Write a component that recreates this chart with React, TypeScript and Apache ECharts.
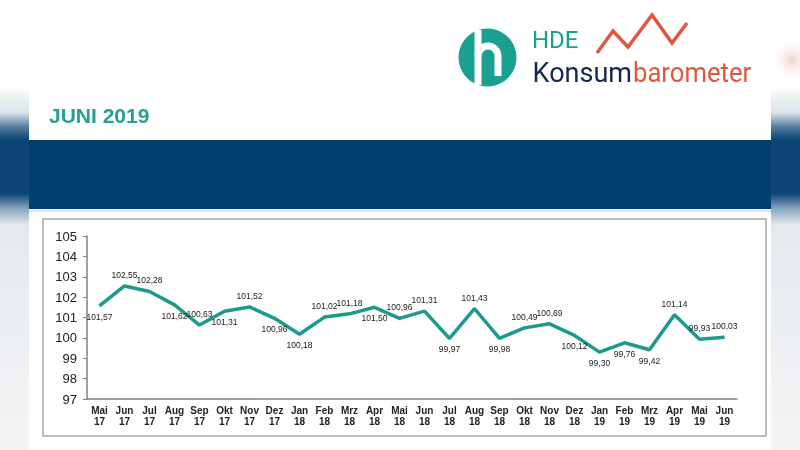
import React, { useEffect, useRef } from "react";
import * as echarts from "echarts";

const months = ["Mai", "Jun", "Jul", "Aug", "Sep", "Okt", "Nov", "Dez", "Jan", "Feb", "Mrz", "Apr", "Mai", "Jun", "Jul", "Aug", "Sep", "Okt", "Nov", "Dez", "Jan", "Feb", "Mrz", "Apr", "Mai", "Jun"];
const years = ["17", "17", "17", "17", "17", "17", "17", "17", "18", "18", "18", "18", "18", "18", "18", "18", "18", "18", "18", "18", "19", "19", "19", "19", "19", "19"];
const values = [101.57, 102.55, 102.28, 101.62, 100.63, 101.31, 101.52, 100.96, 100.18, 101.02, 101.18, 101.5, 100.96, 101.31, 99.97, 101.43, 99.98, 100.49, 100.69, 100.12, 99.3, 99.76, 99.42, 101.14, 99.93, 100.03];
const labelSide = ["bottom", "top", "top", "bottom", "top", "bottom", "top", "bottom", "bottom", "top", "top", "bottom", "top", "top", "bottom", "top", "bottom", "top", "top", "bottom", "bottom", "bottom", "bottom", "top", "top", "top"];
const yMin = 97;
const yMax = 105;

const TEAL = "#1d9a8e";
const CORAL = "#e0573f";

export default function App() {
  const ref = useRef<HTMLDivElement>(null);
  useEffect(() => {
    if (!ref.current) return;
    const chart = echarts.init(ref.current, undefined, { renderer: "svg" });
    const categories = months.map((m, i) => `${m}\n${years[i]}`);
    const fmt = (v: number) => v.toFixed(2).replace(".", ",");
    const option: any = {
      animation: false,
      backgroundColor: "transparent",
      graphic: [
        {
          type: "rect",
          z: -20,
          shape: { x: 0, y: 0, width: 800, height: 450 },
          style: {
            fill: new echarts.graphic.LinearGradient(0, 0, 0, 1, [
              { offset: 0, color: "#ffffff" },
              { offset: 0.19, color: "#ffffff" },
              { offset: 0.22, color: "#e8f2ef" },
              { offset: 0.25, color: "#dde5ec" },
              { offset: 0.28, color: "#5d82a3" },
              { offset: 0.31, color: "#0b4576" },
              { offset: 0.43, color: "#0b4576" },
              { offset: 0.465, color: "#8fa8c0" },
              { offset: 0.5, color: "#e4e9ee" },
              { offset: 1, color: "#f5f5f6" },
            ]),
          },
        },
        {
          type: "circle",
          z: -19,
          shape: { cx: 792, cy: 60, r: 22 },
          style: {
            fill: new echarts.graphic.RadialGradient(0.5, 0.5, 0.5, [
              { offset: 0, color: "rgba(232,170,160,0.55)" },
              { offset: 1, color: "rgba(255,255,255,0)" },
            ]),
          },
        },
        { type: "rect", z: -18, shape: { x: 29, y: 0, width: 742, height: 450 }, style: { fill: "#ffffff" } },
        { type: "rect", z: -17, shape: { x: 29, y: 140, width: 742, height: 69 }, style: { fill: "#033f6e" } },
        { type: "line", z: -17, shape: { x1: 29, y1: 211, x2: 771, y2: 211 }, style: { stroke: "#dbe7ee", lineWidth: 2 } },
        {
          type: "rect",
          z: -16,
          shape: { x: 43, y: 219, width: 723, height: 217 },
          style: { fill: "#ffffff", stroke: "#a6a6a6", lineWidth: 1.5 },
        },
        {
          type: "text",
          z: 5,
          x: 49,
          y: 115,
          style: { text: "JUNI 2019", font: "bold 21px 'Liberation Sans', Arial, sans-serif", fill: "#26a092", verticalAlign: "middle", align: "left" },
        },
        { type: "circle", z: 5, shape: { cx: 487.5, cy: 57.5, r: 29 }, style: { fill: "#1aa08f" } },
        { type: "line", z: 6, shape: { x1: 478, y1: 30, x2: 478, y2: 85 }, style: { stroke: "#ffffff", lineWidth: 7 } },
        { type: "arc", z: 6, shape: { cx: 488, cy: 56, r: 10, startAngle: Math.PI, endAngle: Math.PI * 2, clockwise: true }, style: { stroke: "#ffffff", lineWidth: 7, fill: "none" } },
        { type: "line", z: 6, shape: { x1: 498, y1: 56, x2: 498, y2: 76 }, style: { stroke: "#ffffff", lineWidth: 7 } },
        {
          type: "text",
          z: 5,
          x: 532,
          y: 40,
          style: { text: "HDE", font: "24px Roboto, sans-serif", fill: "#1aa08f", verticalAlign: "middle", align: "left" },
        },
        {
          type: "text",
          z: 5,
          x: 632,
          y: 72.5,
          style: { text: "Konsum", font: "27px Roboto, sans-serif", fill: "#13294b", verticalAlign: "middle", align: "right" },
        },
        {
          type: "text",
          z: 5,
          x: 633,
          y: 72.5,
          scaleX: 0.95,
          style: { text: "barometer", font: "27px Roboto, sans-serif", fill: CORAL, verticalAlign: "middle", align: "left" },
        },
        {
          type: "polyline",
          z: 5,
          shape: { points: [[597, 53], [613, 31], [628, 47], [652, 15], [672, 43], [687, 23]] },
          style: { stroke: CORAL, lineWidth: 3.5, fill: "none" },
        },
      ],
      grid: { left: 87, right: 63, top: 236, bottom: 51 },
      xAxis: {
        type: "category",
        data: categories,
        boundaryGap: true,
        axisLine: { show: true, lineStyle: { color: "#808080", width: 1.5 } },
        axisTick: { show: false },
        axisLabel: {
          interval: 0,
          fontSize: 10,
          fontWeight: "bold",
          color: "#222222",
          lineHeight: 11,
          margin: 6,
          fontFamily: "'Liberation Sans', Arial, sans-serif",
        },
        splitLine: { show: false },
      },
      yAxis: {
        type: "value",
        min: yMin,
        max: yMax,
        interval: 1,
        axisLine: { show: true, lineStyle: { color: "#808080", width: 1.5 } },
        axisTick: { show: true, length: 4, lineStyle: { color: "#808080" } },
        splitLine: { show: false },
        axisLabel: { fontSize: 13, color: "#222222", margin: 10, fontFamily: "'Liberation Sans', Arial, sans-serif" },
      },
      series: [
        {
          type: "line",
          data: values.map((v, i) => ({ value: v, label: { position: labelSide[i] } })),
          symbol: "circle",
          symbolSize: 1,
          showSymbol: true,
          itemStyle: { color: TEAL },
          lineStyle: { color: TEAL, width: 3.5 },
          label: {
            show: true,
            fontSize: 8.5,
            color: "#1a1a1a",
            distance: 6,
            fontFamily: "'Liberation Sans', Arial, sans-serif",
            formatter: (p: any) => fmt(p.value),
          },
          z: 3,
        },
      ],
    };
    chart.setOption(option);
    return () => chart.dispose();
  }, []);
  return <div ref={ref} style={{ position: "fixed", left: 0, top: 0, width: 800, height: 450 }} />;
}
